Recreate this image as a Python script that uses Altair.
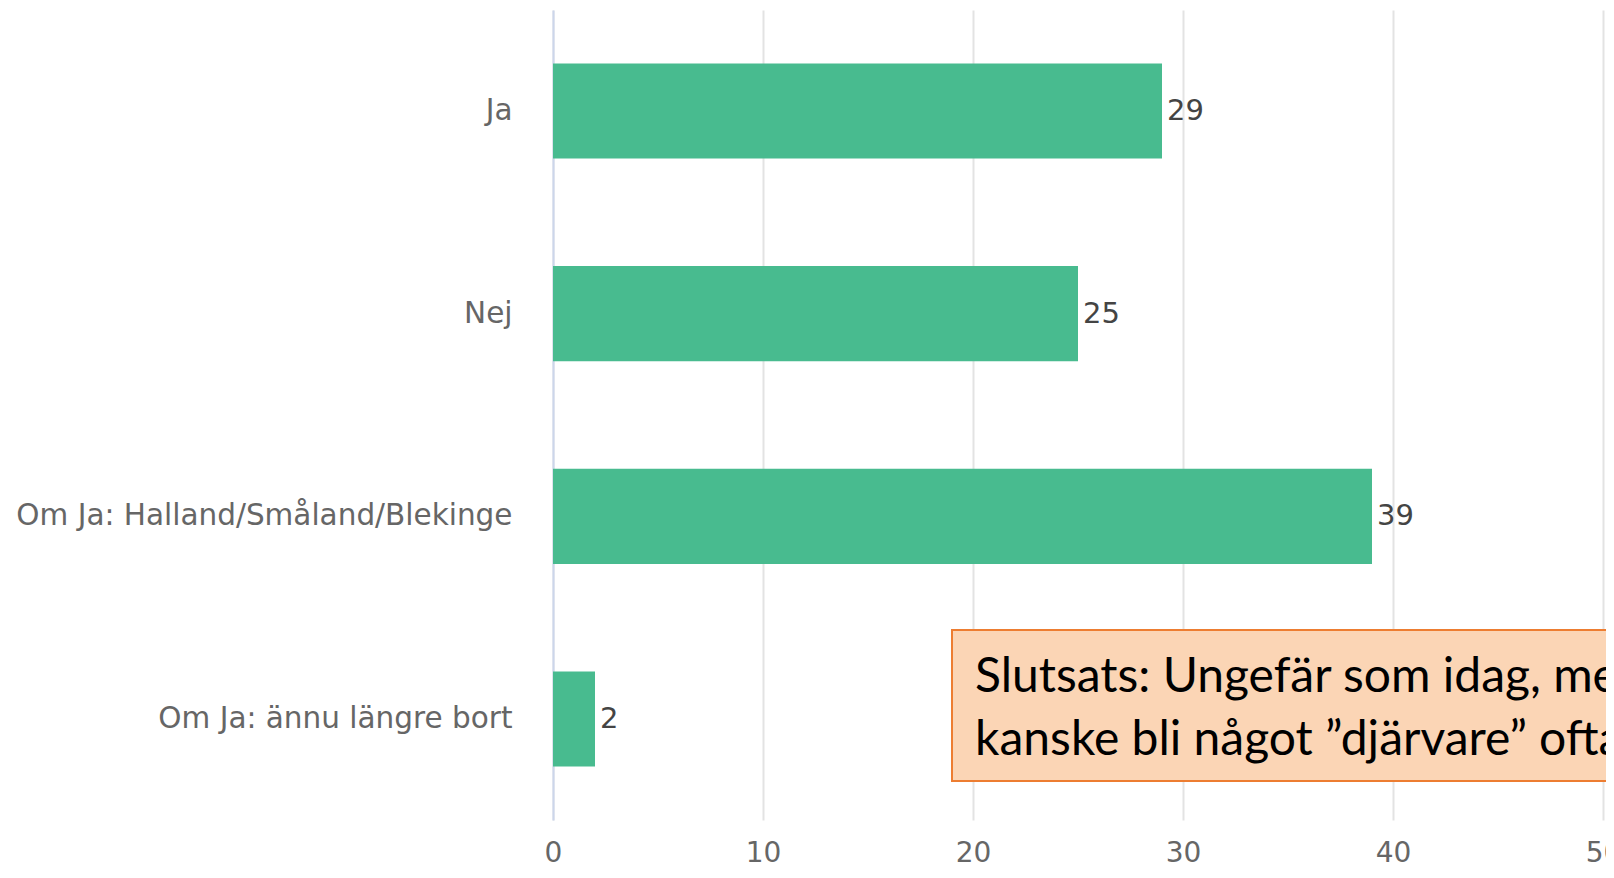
import altair as alt
import pandas as pd

categories = ["Ja", "Nej", "Om Ja: Halland/Småland/Blekinge", "Om Ja: ännu längre bort"]
values = [29, 25, 39, 2]
x_ticks = [0, 10, 20, 30, 40, 50]
note_lines = ["Slutsats: Ungefär som idag, men", "kanske bli något ”djärvare” oftare"]

df = pd.DataFrame({"cat": categories, "val": values})

LABEL_FONT = "DejaVu Sans"
TICK_FONT = "Liberation Sans Narrow, DejaVu Sans"

x_enc = alt.X(
    "val:Q",
    scale=alt.Scale(domain=[0, 50], nice=False, zero=True),
    axis=alt.Axis(
        values=x_ticks, title=None, domain=False, ticks=False,
        grid=True, gridColor="#e3e3e3", gridWidth=2,
        labelFont=TICK_FONT, labelFontSize=28, labelColor="#666666",
        labelBaseline="alphabetic", labelPadding=41, labelFlush=False,
    ),
)
y_enc = alt.Y(
    "cat:N", sort=categories,
    scale=alt.Scale(paddingInner=0.531, paddingOuter=0.2635),
    axis=alt.Axis(
        title=None, ticks=False, domain=True, domainColor="#ccd6eb", domainWidth=2,
        labelFont=LABEL_FONT, labelFontSize=29.5, labelColor="#666666",
        labelPadding=41, labelLimit=800,
    ),
)

base = alt.Chart(df)

bars = base.mark_bar(color="#48bb8f").encode(x=x_enc, y=y_enc)
labels = base.mark_text(
    align="left", baseline="middle", dx=5, font=LABEL_FONT, fontSize=29, color="#444444"
).encode(x="val:Q", y=alt.Y("cat:N", sort=categories), text="val:Q")

note_df = pd.DataFrame({"x0": [19.0], "x1": [53.0], "tx": [20.1], "txt": [note_lines]})
box = alt.Chart(note_df).mark_rect(
    fill="#fbd5b5", stroke="#ed7d31", strokeWidth=2, clip=False
).encode(x="x0:Q", x2="x1:Q", y=alt.value(620), y2=alt.value(771))
note = alt.Chart(note_df).mark_text(
    align="left", baseline="alphabetic", font="Lato", fontSize=48,
    lineHeight=63, color="#000000", clip=False
).encode(x="tx:Q", y=alt.value(682), text="txt")

chart = alt.layer(bars, labels, box, note).properties(
    width=1050, height=810,
    background="white",
    autosize=alt.AutoSizeParams(type="none"),
    padding={"left": 545, "top": 2, "right": 3, "bottom": 50},
).configure_view(stroke=None)

chart.save("out.html", embed_options={"renderer": "svg", "actions": False})
